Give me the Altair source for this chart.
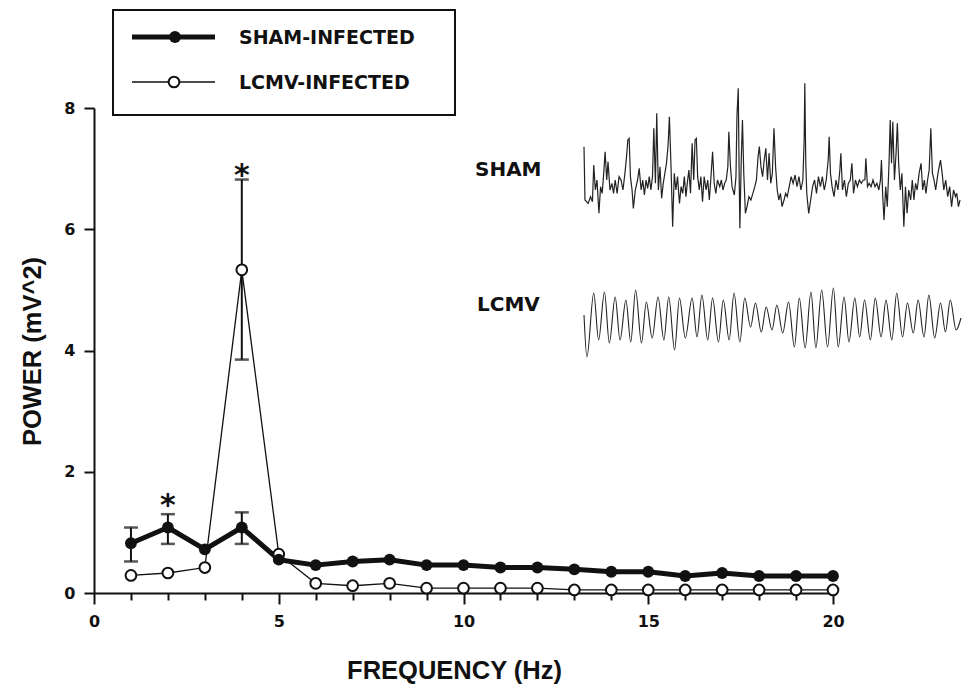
import altair as alt
import pandas as pd
import numpy as np

# ---------------- data ----------------
freq = list(range(1, 21))
sham_power = [0.82, 1.08, 0.72, 1.08, 0.55, 0.46, 0.52, 0.55, 0.46, 0.46,
              0.42, 0.42, 0.39, 0.35, 0.35, 0.28, 0.33, 0.28, 0.28, 0.28]
lcmv_power = [0.29, 0.33, 0.42, 5.33, 0.64, 0.16, 0.12, 0.16, 0.08, 0.08,
              0.08, 0.08, 0.05, 0.05, 0.05, 0.05, 0.05, 0.05, 0.05, 0.05]

err_freq = [1, 2, 4, 4]
err_group = ["SHAM", "SHAM", "SHAM", "LCMV"]
err_low = [0.52, 0.81, 0.81, 3.85]
err_high = [1.08, 1.30, 1.33, 6.82]

star_freq = [2, 4]
star_power = [1.53, 6.98]

x_ticks = list(range(0, 21))
y_ticks = [0, 2, 4, 6, 8]

legend_labels = ["SHAM-INFECTED", "LCMV-INFECTED"]
trace_labels = ["SHAM", "LCMV"]

# EEG traces (image sample, image row)
sham_trace = [
    (372,200),(375,360),(385,370),(392,350),(398,365),(402,255),(407,330),(412,300),(418,400),(423,320),
    (428,340),(432,290),(437,215),(442,300),(446,245),(452,330),(458,310),(463,340),(468,300),(474,340),
    (480,290),(486,300),(492,330),(498,280),(503,230),(507,180),(511,175),(515,290),(520,330),(524,385),
    (530,330),(537,300),(542,265),(548,330),(553,300),(558,345),(563,300),(568,325),(573,290),(578,330),
    (583,290),(587,145),(592,310),(596,100),(601,330),(606,260),(611,355),(616,310),(621,280),(626,250),
    (631,195),(635,110),(640,260),(645,440),(650,280),(655,330),(660,290),(666,370),(671,320),(676,340),
    (681,290),(686,350),(690,310),(695,270),(700,340),(705,190),(710,300),(714,180),(718,175),(722,290),
    (727,330),(732,290),(737,365),(742,290),(748,330),(753,300),(758,360),(763,290),(768,215),(773,310),
    (778,340),(783,300),(790,320),(795,300),(800,330),(805,310),(810,300),(815,260),(818,155),(823,260),
    (828,320),(835,345),(840,290),(843,110),(847,25),(850,300),(852,445),(856,250),(860,120),(864,280),
    (869,400),(874,380),(880,350),(886,360),(892,340),(898,320),(903,300),(908,230),(912,200),(917,260),
    (922,290),(927,240),(932,205),(937,300),(942,220),(947,310),(952,280),(957,145),(962,260),(967,330),
    (972,360),(977,340),(982,380),(988,360),(993,340),(998,350),(1004,320),(1010,290),(1016,310),(1022,285),
    (1028,320),(1034,290),(1040,330),(1046,300),(1050,180),(1052,10),(1055,250),(1058,340),(1064,400),(1070,360),
    (1076,320),(1082,300),(1088,340),(1094,290),(1100,320),(1106,290),(1112,330),(1118,300),(1124,240),(1127,170),
    (1131,280),(1136,320),(1142,350),(1148,300),(1154,330),(1160,270),(1163,220),(1168,330),(1174,300),(1180,350),
    (1186,310),(1192,300),(1197,250),(1202,340),(1208,300),(1214,320),(1220,300),(1226,310),(1232,300),(1237,300),
    (1240,235),(1245,320),(1250,310),(1256,320),(1262,300),(1268,320),(1274,310),(1280,330),(1285,300),(1288,240),
    (1292,350),(1296,420),(1301,320),(1306,380),(1311,260),(1315,120),(1319,250),(1323,125),(1328,300),(1333,220),
    (1337,130),(1341,250),(1346,330),(1351,280),(1357,440),(1362,320),(1367,400),(1372,330),(1378,360),(1383,300),
    (1388,360),(1393,310),(1398,330),(1404,280),(1410,250),(1415,330),(1420,300),(1425,340),(1430,300),(1435,270),
    (1440,145),(1445,280),(1450,300),(1455,330),(1462,280),(1466,260),(1470,240),(1475,280),(1480,330),(1486,300),
    (1492,350),(1498,320),(1504,380),(1510,330),(1516,350),(1520,340),(1525,380),(1530,360),
]
lcmv_trace_x = [584,587,594,599,605,610,616,621,627,632,637,643,648,654,660,666,671,677,682,688,
                695,700,705,711,716,722,727,733,738,744,749,755,760,766,771,777,782,788,794,800,
                805,811,817,822,828,834,840,845,851,856,862,867,872,878,883,889,894,900,905,911,
                916,922,927,933,938,944,950,955,960,966,971]
lcmv_trace_y = [315,357,293,340,292,343,297,340,300,342,290,343,302,338,297,340,297,350,298,338,
                298,337,295,340,298,342,300,340,293,342,298,327,303,332,307,330,305,333,302,347,
                298,348,292,348,290,347,288,347,297,342,298,337,300,340,298,337,300,340,293,337,
                303,333,300,337,295,338,303,332,300,330,318]

# ---------------- layout / style ----------------
W, H = 739, 485
INK = "#111111"
FONT_T = "Liberation Sans"
FONT_L = "DejaVu Sans"

df = pd.DataFrame({"freq": freq, "sham": sham_power, "lcmv": lcmv_power})
err = pd.DataFrame({"freq": err_freq, "group": err_group, "low": err_low, "high": err_high})
caps = pd.concat([
    pd.DataFrame({"freq": err_freq, "val": err_low}),
    pd.DataFrame({"freq": err_freq, "val": err_high}),
])
stars = pd.DataFrame({"freq": star_freq, "power": star_power})

xscale = alt.Scale(domain=[0, 20], nice=False, zero=False)
yscale = alt.Scale(domain=[0, 8], nice=False, zero=False)

xaxis = alt.Axis(
    values=x_ticks, title="FREQUENCY (Hz)", grid=False,
    labelExpr="datum.value % 5 === 0 ? datum.label : ''",
    tickSize={"condition": {"test": "datum.value % 5 === 0", "value": 11}, "value": 7},
    tickWidth=2, tickColor=INK, domainWidth=2, domainColor=INK,
    labelFont=FONT_L, labelFontSize=16, labelFontWeight="bold", labelColor=INK,
    labelPadding=9, labelFlush=False, labelOverlap=False,
    titleFont=FONT_T, titleFontSize=25.5, titleFontWeight="bold", titleColor=INK,
    titleX=360, titleY=85, titleBaseline="alphabetic", titleAlign="center",
)
yaxis = alt.Axis(
    values=y_ticks, title="POWER (mV^2)", grid=False,
    tickSize=10, tickWidth=2, tickColor=INK, domainWidth=2, domainColor=INK,
    labelFont=FONT_L, labelFontSize=16, labelFontWeight="bold", labelColor=INK,
    labelPadding=9, labelFlush=False, labelOverlap=False,
    titleFont=FONT_T, titleFontSize=25.5, titleFontWeight="bold", titleColor=INK,
    titleX=-61.5, titleY=243, titleAngle=270, titleAlign="center", titleBaseline="middle",
)

X = alt.X("freq:Q", scale=xscale, axis=xaxis)
def Yf(field):
    return alt.Y(f"{field}:Q", scale=yscale, axis=yaxis)

err_rule = alt.Chart(err).mark_rule(color=INK, strokeWidth=2).encode(
    x=X, y=Yf("low"), y2="high:Q")
err_caps = alt.Chart(caps).mark_tick(orient="horizontal", size=14, thickness=2.5, color=INK).encode(
    x=X, y=Yf("val"))
lcmv_line = alt.Chart(df).mark_line(color=INK, strokeWidth=1.3).encode(x=X, y=Yf("lcmv"))
sham_line = alt.Chart(df).mark_line(color=INK, strokeWidth=5, strokeJoin="round").encode(x=X, y=Yf("sham"))
lcmv_pts = alt.Chart(df).mark_point(shape="circle", filled=True, fill="white", stroke=INK,
                                    strokeWidth=2, size=115, opacity=1).encode(x=X, y=Yf("lcmv"))
sham_pts = alt.Chart(df).mark_point(shape="circle", filled=True, color=INK, size=140,
                                    opacity=1).encode(x=X, y=Yf("sham"))
star_txt = alt.Chart(stars).mark_text(text="*", font=FONT_L, fontSize=30, fontWeight="bold",
                                      color=INK, align="center", baseline="middle", dy=6).encode(
    x=X, y=Yf("power"))

main = alt.layer(err_rule, err_caps, lcmv_line, sham_line, lcmv_pts, sham_pts, star_txt)

# ---------------- legend and trace labels (view-pixel layer) ----------------
px = alt.Scale(domain=[0, W], range=[0, W], nice=False, zero=False)
py = alt.Scale(domain=[0, H], range=[0, H], nice=False, zero=False)
PX = lambda f: alt.X(f"{f}:Q", scale=px, axis=None)
PY = lambda f: alt.Y(f"{f}:Q", scale=py, axis=None)

box = pd.DataFrame({"x": [19], "x2": [361], "y": [-98], "y2": [7]})
leg = pd.DataFrame({"label": legend_labels, "y": [-71, -26], "ty": [-70, -25],
                    "x": [38, 38], "x2": [121, 121], "mx": [81, 80], "tx": [145, 145]})
lab = pd.DataFrame({"label": trace_labels, "x": [381, 383], "y": [62, 197]})

leg_box = alt.Chart(box).mark_rect(fillOpacity=0, stroke=INK, strokeWidth=2).encode(
    x=PX("x"), x2="x2:Q", y=PY("y"), y2="y2:Q")
leg_l1 = alt.Chart(leg.iloc[[0]]).mark_rule(color=INK, strokeWidth=5).encode(
    x=PX("x"), x2="x2:Q", y=PY("y"))
leg_l2 = alt.Chart(leg.iloc[[1]]).mark_rule(color=INK, strokeWidth=1.3).encode(
    x=PX("x"), x2="x2:Q", y=PY("y"))
leg_p1 = alt.Chart(leg.iloc[[0]]).mark_point(shape="circle", filled=True, color=INK, size=140,
                                             opacity=1).encode(x=PX("mx"), y=PY("y"))
leg_p2 = alt.Chart(leg.iloc[[1]]).mark_point(shape="circle", filled=True, fill="white", stroke=INK,
                                             strokeWidth=2, size=115, opacity=1).encode(x=PX("mx"), y=PY("y"))
leg_t = alt.Chart(leg).mark_text(font=FONT_L, fontSize=19, fontWeight="bold", color=INK,
                                 align="left", baseline="middle").encode(
    x=PX("tx"), y=PY("ty"), text="label:N")
lab_t = alt.Chart(lab).mark_text(font=FONT_L, fontSize=20, fontWeight="bold", color=INK,
                                 align="left", baseline="middle").encode(
    x=PX("x"), y=PY("y"), text="label:N")

overlay = alt.layer(leg_box, leg_l1, leg_l2, leg_p1, leg_p2, leg_t, lab_t)

# ---------------- EEG traces ----------------
sx = np.array([p[0] for p in sham_trace], dtype=float)
sy = np.array([p[1] for p in sham_trace], dtype=float)
sham_df = pd.DataFrame({"t": (sx - 372) / 3.0, "v": (360 - sy) / 3.0})
lcmv_df = pd.DataFrame({"t": np.array(lcmv_trace_x) - 584.0, "v": 320.0 - np.array(lcmv_trace_y)})

tscale = alt.Scale(domain=[0, 387], range=[490, 867], nice=False, zero=False)
sham_tr = alt.Chart(sham_df).mark_line(color="#222222", strokeWidth=1.2).encode(
    x=alt.X("t:Q", scale=tscale, axis=None),
    y=alt.Y("v:Q", scale=alt.Scale(domain=[-40, 120], range=[132, -28], nice=False, zero=False), axis=None))
lcmv_tr = alt.Chart(lcmv_df).mark_line(color="#222222", strokeWidth=1.1, interpolate="monotone").encode(
    x=alt.X("t:Q", scale=tscale, axis=None),
    y=alt.Y("v:Q", scale=alt.Scale(domain=[-40, 40], range=[252, 172], nice=False, zero=False), axis=None))

chart = alt.layer(main, overlay, sham_tr, lcmv_tr).resolve_scale(
    x="independent", y="independent"
).properties(
    width=W, height=H,
    autosize=alt.AutoSizeParams(type="none"),
    padding={"left": 86, "top": 100, "right": 130, "bottom": 94},
    background="white",
).configure_view(stroke=None)

chart.save("out.html", embed_options={"renderer": "svg", "actions": False})
